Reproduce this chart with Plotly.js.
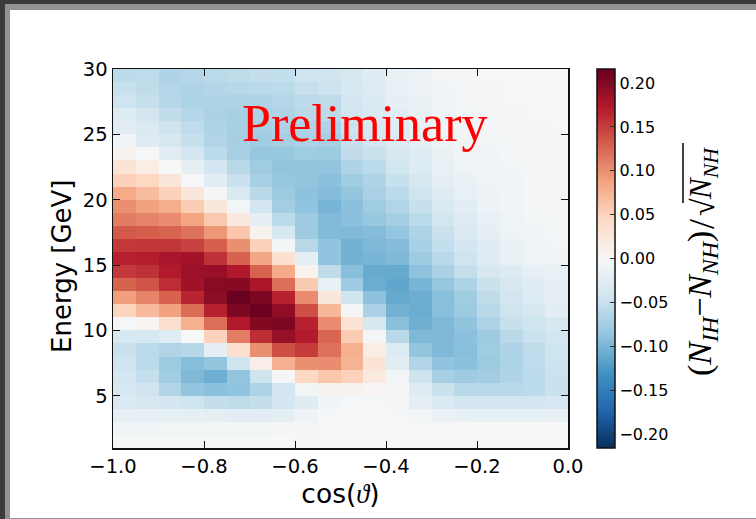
<!DOCTYPE html>
<html><head><meta charset="utf-8">
<script src="https://cdn.plot.ly/plotly-3.0.1.min.js"></script>
<style>
html,body{margin:0;padding:0;width:756px;height:519px;overflow:hidden;background:#3a3a3a}
#f1{position:absolute;left:5px;top:4px;width:751px;height:515px;background:#929292}
#f2{position:absolute;left:10px;top:10px;width:746px;height:508px;background:#fff}
#plot{position:absolute;left:0;top:0;width:756px;height:519px}
</style></head><body>
<div id="f1"></div><div id="f2"></div><div id="plot"></div>
<script>
const cosEdges=[-1,-0.95,-0.9,-0.85,-0.8,-0.75,-0.7,-0.65,-0.6,-0.55,-0.5,-0.45,-0.4,-0.35,-0.3,-0.25,-0.2,-0.15,-0.1,-0.05,0];
const energyEdges=[1,2,3,4,5,6,7,8,9,10,11,12,13,14,15,16,17,18,19,20,21,22,23,24,25,26,27,28,29,30];
const e01=[-.001,-.001,-.001,-.001,-.001,-.001,-.001,-.001,.001,.001,.002,.002,.002,.002,.002,.002,.002,.002,.001,.001];
const e02=[-.007,-.007,-.006,-.006,-.006,-.006,-.006,-.005,-.004,-.003,.001,.001,.001,.001,.001,.001,0,0,0,0];
const e03=[-.018,-.018,-.02,-.02,-.022,-.023,-.023,-.022,-.009,-.003,-.001,-.001,-.002,-.006,-.014,-.018,-.018,-.018,-.018,-.016];
const e04=[-.033,-.036,-.04,-.045,-.052,-.055,-.052,-.04,-.027,-.008,-.003,-.002,-.004,-.022,-.033,-.04,-.04,-.04,-.04,-.038];
const e05=[-.036,-.044,-.065,-.086,-.09,-.087,-.068,-.04,-.006,.008,.008,.004,-.004,-.028,-.048,-.06,-.06,-.06,-.058,-.048];
const e06=[-.04,-.053,-.076,-.097,-.106,-.086,-.045,.001,.045,.06,.05,.022,-.006,-.045,-.072,-.078,-.075,-.066,-.058,-.047];
const e07=[-.044,-.058,-.08,-.093,-.086,-.043,.014,.078,.1,.102,.075,.03,-.025,-.065,-.087,-.09,-.08,-.068,-.056,-.046];
const e08=[-.047,-.058,-.065,-.062,-.022,.037,.1,.14,.152,.119,.078,.015,-.03,-.086,-.097,-.092,-.077,-.067,-.055,-.045];
const e09=[-.036,-.037,-.026,-.001,.05,.112,.16,.188,.172,.126,.055,-.005,-.06,-.097,-.097,-.09,-.078,-.06,-.048,-.042];
const e10=[-.002,.006,.037,.078,.12,.172,.2,.203,.168,.102,.03,-.035,-.09,-.105,-.097,-.087,-.067,-.05,-.045,-.035];
const e11=[.048,.07,.088,.122,.168,.203,.213,.192,.14,.072,-.005,-.07,-.103,-.108,-.092,-.08,-.06,-.045,-.036,-.025];
const e12=[.09,.107,.128,.166,.195,.214,.204,.167,.102,.025,-.043,-.088,-.111,-.107,-.092,-.077,-.055,-.04,-.03,-.022];
const e13=[.128,.137,.16,.183,.197,.198,.176,.12,.056,-.018,-.078,-.108,-.113,-.1,-.084,-.067,-.048,-.036,-.026,-.02];
const e14=[.153,.158,.172,.185,.188,.173,.128,.082,.01,-.055,-.092,-.11,-.11,-.088,-.07,-.052,-.036,-.028,-.02,-.015];
const e15=[.168,.17,.178,.182,.158,.128,.085,.035,-.022,-.087,-.103,-.1,-.097,-.078,-.06,-.045,-.027,-.017,-.01,-.008];
const e16=[.153,.155,.155,.148,.13,.1,.05,-.006,-.06,-.087,-.103,-.098,-.094,-.071,-.053,-.04,-.026,-.016,-.01,-.006];
const e17=[.133,.131,.127,.118,.095,.06,.008,-.036,-.078,-.095,-.096,-.094,-.085,-.067,-.047,-.033,-.02,-.01,-.007,-.005];
const e18=[.112,.108,.102,.086,.058,.022,-.02,-.058,-.078,-.095,-.09,-.083,-.073,-.058,-.042,-.028,-.018,-.01,-.006,-.005];
const e19=[.1,.088,.08,.055,.024,-.006,-.04,-.075,-.087,-.1,-.09,-.077,-.065,-.05,-.034,-.025,-.013,-.008,-.005,-.005];
const e20=[.082,.068,.05,.024,-.004,-.034,-.06,-.08,-.088,-.094,-.085,-.07,-.058,-.044,-.028,-.018,-.012,-.008,-.005,-.005];
const e21=[.05,.045,.028,-.002,-.024,-.047,-.071,-.083,-.086,-.09,-.076,-.066,-.05,-.036,-.022,-.015,-.01,-.008,-.005,-.005];
const e22=[.03,.016,0,-.02,-.04,-.06,-.077,-.086,-.085,-.086,-.066,-.058,-.042,-.03,-.018,-.01,-.008,-.006,-.005,-.004];
const e23=[.008,-.002,-.024,-.04,-.058,-.072,-.082,-.082,-.077,-.08,-.054,-.048,-.036,-.026,-.015,-.009,-.007,-.005,-.004,-.004];
const e24=[-.007,-.028,-.036,-.05,-.065,-.073,-.076,-.073,-.07,-.073,-.05,-.04,-.03,-.02,-.012,-.007,-.006,-.005,-.004,-.004];
const e25=[-.024,-.033,-.044,-.056,-.066,-.072,-.072,-.068,-.067,-.066,-.046,-.037,-.027,-.018,-.01,-.006,-.005,-.004,-.004,-.003];
const e26=[-.03,-.041,-.054,-.063,-.069,-.071,-.068,-.066,-.06,-.058,-.042,-.033,-.024,-.016,-.01,-.006,-.005,-.004,-.003,-.003];
const e27=[-.044,-.05,-.062,-.068,-.067,-.067,-.066,-.063,-.058,-.055,-.04,-.031,-.02,-.015,-.008,-.005,-.004,-.003,-.003,-.002];
const e28=[-.05,-.055,-.063,-.066,-.063,-.061,-.06,-.058,-.05,-.046,-.037,-.028,-.018,-.013,-.007,-.005,-.004,-.003,-.003,-.002];
const e29=[-.058,-.057,-.066,-.062,-.059,-.055,-.052,-.053,-.044,-.043,-.036,-.026,-.016,-.012,-.005,-.004,-.003,-.003,-.002,-.002];
const zRows=[e01,e02,e03,e04,e05,e06,e07,e08,e09,e10,e11,e12,e13,e14,e15,e16,e17,e18,e19,e20,e21,e22,e23,e24,e25,e26,e27,e28,e29];
const xTicks=[-1,-0.8,-0.6,-0.4,-0.2,0];
const yTicks=[5,10,15,20,25,30];
const cbTicks=[-0.2,-0.15,-0.1,-0.05,0,0.05,0.1,0.15,0.2];
const rdbu=['#053061','#2166ac','#4393c3','#92c5de','#d1e5f0','#f7f7f7','#fddbc7','#f4a582','#d6604d','#b2182b','#67001f'];

const W=756,H=519,L=113,R=568,T=69,B=448;
const px=x=>(x-L)/(R-L), py=y=>(B-y)/(B-T);
const sans='"DejaVu Sans",sans-serif', serif='"Liberation Serif",serif';
const axisBase={showline:true,mirror:'allticks',linecolor:'#111',linewidth:1.5,ticks:'inside',ticklen:7,tickwidth:1,tickcolor:'#111',showgrid:false,zeroline:false,tickfont:{family:sans,size:19.5,color:'#000'}};
const rot=(y,text,size,x,family)=>({xref:'paper',yref:'paper',x:px(x),y:py(y),xanchor:'center',yanchor:'middle',showarrow:false,textangle:-90,text,font:{family:family||serif,size,color:'#000'}});
Plotly.newPlot('plot',[{
  type:'heatmap',x:cosEdges,y:energyEdges,z:zRows,zmin:-0.216,zmax:0.216,
  colorscale:rdbu.map((c,i)=>[i/(rdbu.length-1),c]),zsmooth:false,
  colorbar:{x:px(597),xanchor:'left',y:0.5,yanchor:'middle',len:1,lenmode:'fraction',thickness:18,thicknessmode:'pixels',xpad:0,ypad:0,
    outlinecolor:'#111',outlinewidth:1.5,ticks:'inside',ticklen:5,tickwidth:1,tickcolor:'#333',tickvals:cbTicks,tickformat:'.2f',tickprefix:'\u2009',
    tickfont:{family:sans,size:16,color:'#000'},ticklabelposition:'outside'}
}],{
  width:W,height:H,margin:{l:L,r:W-R,t:T,b:H-B,pad:0},
  paper_bgcolor:'rgba(0,0,0,0)',plot_bgcolor:'#fff',
  xaxis:Object.assign({},axisBase,{range:[-1,0],tickvals:xTicks,tickformat:'.1f',title:{text:'cos(<span style="font-family:Liberation Serif"><i>ϑ</i></span>)',font:{family:sans,size:26.5,color:'#000'},standoff:7}}),
  yaxis:Object.assign({},axisBase,{range:[1,30],tickvals:yTicks}),
  annotations:[
    rot(266,'Energy [GeV]',26,62,sans),
    {xref:'paper',yref:'paper',x:px(365),y:py(123),xanchor:'center',yanchor:'middle',showarrow:false,text:'Preliminary',font:{family:serif,size:52,color:'#ff0000'}},
    rot(304,'(<i>N<sub>IH</sub></i>−<i>N<sub>NH</sub></i>)',34,702),
    rot(224,'/',36,702),
    rot(207,'√',32,703),
    rot(174,'<i>N<sub>NH</sub></i>',31,703)
  ],
  shapes:[{type:'line',xref:'paper',yref:'paper',x0:px(683),x1:px(683),y0:py(143),y1:py(203),line:{color:'#000',width:1.5}}]
},{displayModeBar:false,staticPlot:true});
</script></body></html>
